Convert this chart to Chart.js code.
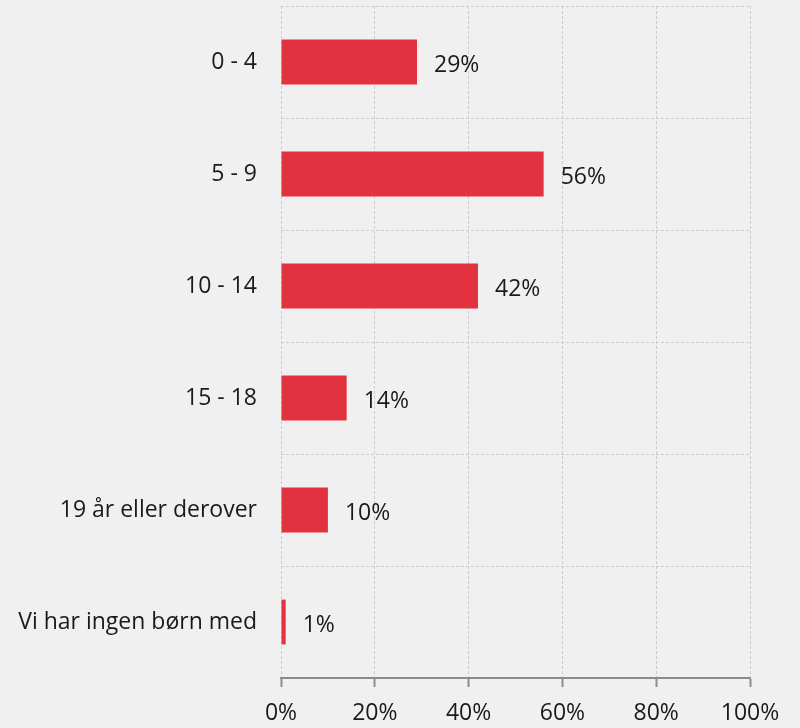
<!DOCTYPE html>
<html>
<head>
<meta charset="utf-8">
<script src="https://cdn.jsdelivr.net/npm/chart.js@4"></script>
<style>
  html, body { margin: 0; padding: 0; background: #f0f0f0; }
  #wrap { width: 800px; height: 728px; }
</style>
</head>
<body>
<div id="wrap"><canvas id="myChart" width="800" height="728"></canvas></div>
<script>
const categories = ['0 - 4', '5 - 9', '10 - 14', '15 - 18', '19 år eller derover', 'Vi har ingen børn med'];
const values = [29, 56, 42, 14, 10, 1];
const xTicks = [0, 20, 40, 60, 80, 100];

const FONT = '"Open Sans", "Noto Sans", sans-serif';

// draws "29%" etc. just right of each bar
const valueLabels = {
  id: 'valueLabels',
  afterDatasetsDraw(chart) {
    const ctx = chart.ctx;
    const meta = chart.getDatasetMeta(0);
    ctx.save();
    ctx.font = '23px ' + FONT;
    ctx.fillStyle = '#1a1a1a';
    ctx.textAlign = 'left';
    ctx.textBaseline = 'middle';
    meta.data.forEach((bar, i) => {
      ctx.fillText(values[i] + '%', bar.x + 17, bar.y + 3);
    });
    ctx.restore();
  }
};

const bgFill = {
  id: 'bgFill',
  beforeDraw(chart) {
    const ctx = chart.ctx;
    ctx.save();
    ctx.fillStyle = '#f0f0f0';
    ctx.fillRect(0, 0, chart.width, chart.height);
    ctx.restore();
  }
};

const ctx = document.getElementById('myChart').getContext('2d');
const myChart = new Chart(ctx, {
  type: 'bar',
  data: {
    labels: categories,
    datasets: [{
      data: values,
      backgroundColor: '#e3323f',
      borderWidth: 0,
      barPercentage: 0.4,
      categoryPercentage: 1,
    }]
  },
  options: {
    indexAxis: 'y',
    responsive: false,
    animation: false,
    layout: { padding: { top: 6, right: 50, left: 0, bottom: 0 } },
    plugins: {
      legend: { display: false },
      tooltip: { enabled: false },
    },
    scales: {
      x: {
        type: 'linear',
        position: 'bottom',
        min: 0,
        max: 100,
        afterBuildTicks: (scale) => { scale.ticks = xTicks.map(v => ({ value: v })); },
        afterFit: (scale) => {
          scale.height = 50;
          scale.paddingLeft = 0;
          scale.paddingRight = 0;
        },
        ticks: {
          callback: (v) => v + '%',
          color: '#1a1a1a',
          font: { family: FONT, size: 23 },
          padding: 13,
          maxRotation: 0,
        },
        grid: {
          color: '#cccccc',
          lineWidth: 1,
          tickColor: '#8c8c8c',
          tickWidth: 2,
          tickLength: 9,
        },
        border: {
          display: true,
          color: '#8c8c8c',
          width: 2,
          dash: [3, 2],
        },
      },
      y: {
        afterFit: (scale) => {
          scale.width = 281;
          scale.paddingTop = 0;
          scale.paddingBottom = 0;
        },
        ticks: {
          color: '#1a1a1a',
          font: { family: FONT, size: 23 },
          padding: 24,
        },
        grid: {
          color: '#cccccc',
          lineWidth: 1,
          drawTicks: false,
          offset: true,
        },
        border: {
          display: false,
          dash: [3, 2],
        },
      }
    }
  },
  plugins: [bgFill, valueLabels]
});
</script>
</body>
</html>
